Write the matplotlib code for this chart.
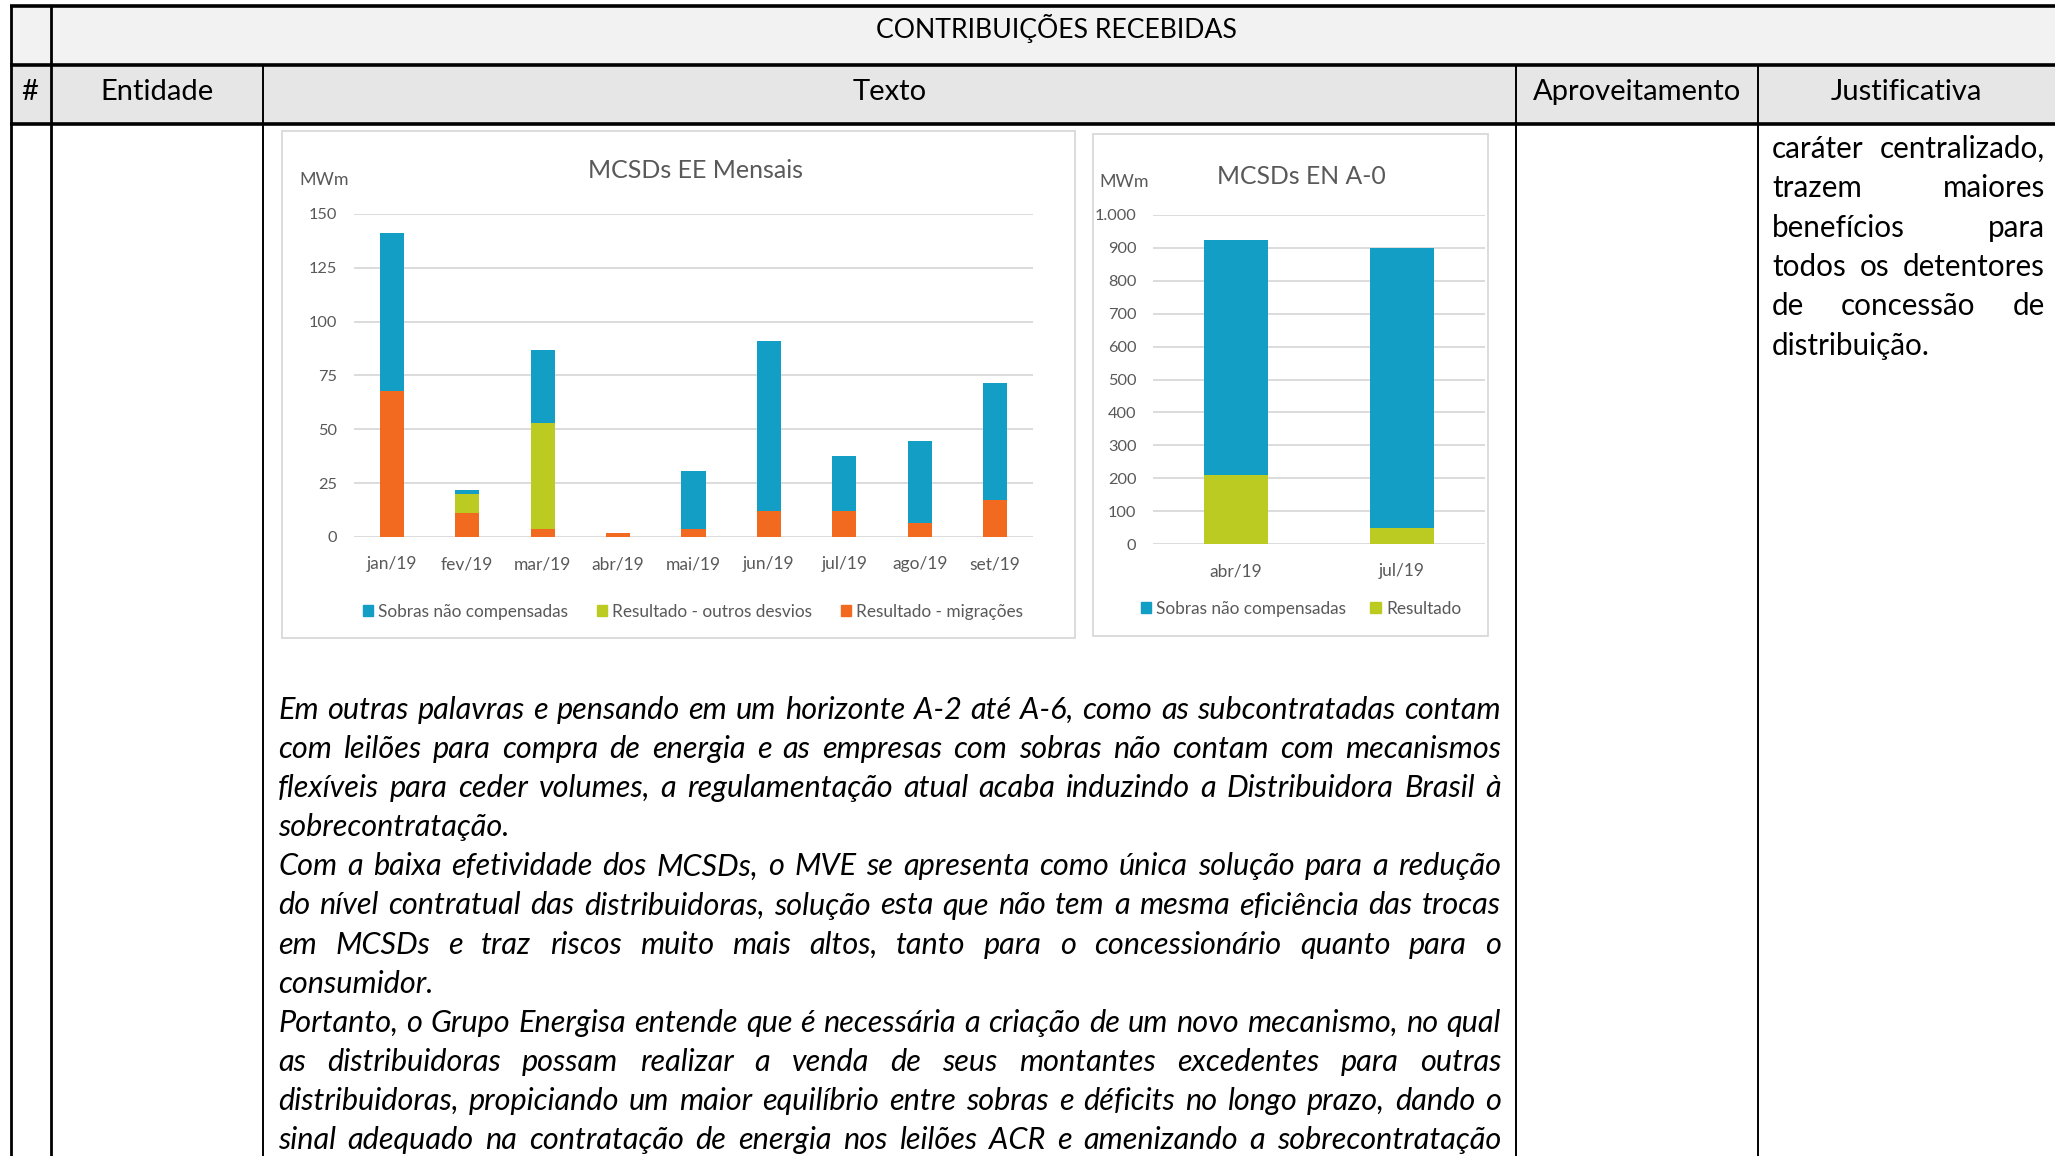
import matplotlib
matplotlib.use('Agg')
import matplotlib.pyplot as plt
from matplotlib.patches import Rectangle, Patch
from matplotlib.ticker import FuncFormatter

W, H, DPI = 2055, 1156, 100
FONT = 'Lato'

# ---------------- data ----------------
months = ['jan/19', 'fev/19', 'mar/19', 'abr/19', 'mai/19', 'jun/19', 'jul/19', 'ago/19', 'set/19']
res_migracoes = [68, 11, 3.5, 2, 3.5, 12, 12, 6.5, 17]
res_outros = [0, 9, 49.5, 0, 0, 0, 0, 0, 0]
sobras_mensais = [73, 1.8, 34, 0, 27, 79, 25.5, 38, 54.5]
mensal_yticks = [0, 25, 50, 75, 100, 125, 150]

a0_months = ['abr/19', 'jul/19']
a0_resultado = [210, 50]
a0_sobras = [713, 850]
a0_yticks = [0, 100, 200, 300, 400, 500, 600, 700, 800, 900, 1000]

title_row = 'CONTRIBUIÇÕES RECEBIDAS'
header_cols = ['#', 'Entidade', 'Texto', 'Aproveitamento', 'Justificativa']

body_lines = [
    'Em outras palavras e pensando em um horizonte A-2 até A-6, como as subcontratadas contam',
    'com leilões para compra de energia e as empresas com sobras não contam com mecanismos',
    'flexíveis para ceder volumes, a regulamentação atual acaba induzindo a Distribuidora Brasil à',
    'sobrecontratação.',
    'Com a baixa efetividade dos MCSDs, o MVE se apresenta como única solução para a redução',
    'do nível contratual das distribuidoras, solução esta que não tem a mesma eficiência das trocas',
    'em MCSDs e traz riscos muito mais altos, tanto para o concessionário quanto para o',
    'consumidor.',
    'Portanto, o Grupo Energisa entende que é necessária a criação de um novo mecanismo, no qual',
    'as distribuidoras possam realizar a venda de seus montantes excedentes para outras',
    'distribuidoras, propiciando um maior equilíbrio entre sobras e déficits no longo prazo, dando o',
    'sinal adequado na contratação de energia nos leilões ACR e amenizando a sobrecontratação',
]
body_par_end = [False, False, False, True, False, False, False, True, False, False, False, False]

just_lines = [
    'caráter centralizado,',
    'trazem maiores',
    'benefícios para',
    'todos os detentores',
    'de concessão de',
    'distribuição.',
]

C_BLUE = '#129EC5'
C_GREEN = '#BCCB22'
C_ORANGE = '#F26A1F'
C_TXT = '#595959'
C_GRID = '#D9D9D9'

# ---------------- figure & table ----------------
fig = plt.figure(figsize=(W / DPI, H / DPI), dpi=DPI)
fig.patch.set_facecolor('white')
bg = fig.add_axes([0, 0, 1, 1])
bg.set_xlim(0, W)
bg.set_ylim(H, 0)
bg.axis('off')

bg.add_patch(Rectangle((11, 6), W - 11, 59, facecolor='#f2f2f2', edgecolor='none'))
bg.add_patch(Rectangle((11, 65), W - 11, 59, facecolor='#e7e6e6', edgecolor='none'))
for y in (6, 65, 124):
    bg.plot([10, W], [y, y], color='black', lw=2.6, solid_capstyle='butt')
bg.plot([11, 11], [5, H], color='black', lw=2.0, solid_capstyle='butt')
bg.plot([51, 51], [5, H], color='black', lw=2.0, solid_capstyle='butt')
for x in (263, 1516, 1758):
    bg.plot([x, x], [65, H], color='black', lw=1.4, solid_capstyle='butt')

bg.text(1056, 38, title_row, ha='center', va='baseline', fontsize=19.2, family=FONT)
for name, xc in zip(header_cols, [30, 157, 890, 1637, 1906]):
    bg.text(xc, 100, name, ha='center', va='baseline', fontsize=21, family=FONT)

# chart boxes
bg.add_patch(Rectangle((282, 131), 1075 - 282, 638 - 131, facecolor='white', edgecolor=C_GRID, lw=1.3))
bg.add_patch(Rectangle((1093, 134), 1488 - 1093, 636 - 134, facecolor='white', edgecolor=C_GRID, lw=1.3))

renderer = fig.canvas.get_renderer()


def text_w(s, size, style):
    t = bg.text(0, 0, s, fontsize=size, family=FONT, style=style)
    w = t.get_window_extent(renderer).width
    t.remove()
    return w


def fit_size(lines, target, style):
    ref = 20.0
    mx = max(text_w(l, ref, style) for l in lines)
    return ref * target / mx


def place_lines(lines, ends, x0, x1, y0, dy, size, style):
    sp = text_w('x x', size, style) - text_w('xx', size, style)
    for i, (line, end) in enumerate(zip(lines, ends)):
        y = y0 + i * dy
        words = line.split()
        texts = [bg.text(0, y, w, ha='left', va='baseline', fontsize=size,
                         family=FONT, style=style) for w in words]
        widths = [t.get_window_extent(renderer).width for t in texts]
        if not end and len(words) > 1:
            gap = (x1 - x0 - sum(widths)) / (len(words) - 1)
        else:
            gap = sp
        x = x0
        for t, w in zip(texts, widths):
            t.set_x(x)
            x += w + gap


body_size = fit_size([l for l, e in zip(body_lines, body_par_end) if not e], (1501 - 278) * 0.985, 'italic')
place_lines(body_lines, body_par_end, 278, 1501, 719, 39.1, body_size, 'italic')

just_ends = [False] * (len(just_lines) - 1) + [True]
just_size = fit_size(just_lines[:-1], (2045 - 1772) * 0.97, 'normal')
place_lines(just_lines, just_ends, 1772, 2045, 158, 39.3, just_size, 'normal')


# ---------------- charts ----------------
def style_axis(ax, yticks, fmt=None):
    ax.set_facecolor('none')
    for s in ax.spines.values():
        s.set_visible(False)
    ax.set_yticks(yticks)
    ax.set_ylim(yticks[0], yticks[-1])
    ax.yaxis.grid(True, color=C_GRID, lw=1.3)
    ax.set_axisbelow(True)
    ax.tick_params(axis='both', length=0, colors=C_TXT)
    ax.tick_params(axis='y', pad=12, labelsize=11.8)
    ax.tick_params(axis='x', pad=14, labelsize=12.5)
    for lab in ax.get_xticklabels() + ax.get_yticklabels():
        lab.set_family(FONT)
    if fmt is not None:
        ax.yaxis.set_major_formatter(fmt)


ax1 = fig.add_axes([354 / W, 1 - 537 / H, (1033 - 354) / W, (537 - 214) / H])
x1 = list(range(len(months)))
bw = 0.32
ax1.bar(x1, res_migracoes, bw, color=C_ORANGE)
base = list(res_migracoes)
ax1.bar(x1, res_outros, bw, bottom=base, color=C_GREEN)
base = [a + b for a, b in zip(base, res_outros)]
ax1.bar(x1, sobras_mensais, bw, bottom=base, color=C_BLUE)
ax1.set_xlim(-0.5, len(months) - 0.5)
ax1.set_xticks(x1)
ax1.set_xticklabels(months)
style_axis(ax1, mensal_yticks)

leg1 = ax1.legend(handles=[Patch(color=C_BLUE, label='Sobras não compensadas'),
                           Patch(color=C_GREEN, label='Resultado - outros desvios'),
                           Patch(color=C_ORANGE, label='Resultado - migrações')],
                  loc='center', bbox_to_anchor=(693 / W, 1 - 612 / H), bbox_transform=fig.transFigure,
                  ncol=3, frameon=False, handlelength=0.6, handleheight=0.6,
                  handletextpad=0.3, columnspacing=1.65, prop={'family': FONT, 'size': 12.4})
for t in leg1.get_texts():
    t.set_color(C_TXT)

ax2 = fig.add_axes([1153 / W, 1 - 544 / H, (1485 - 1153) / W, (544 - 215) / H])
x2 = list(range(len(a0_months)))
bw2 = 0.39
ax2.bar(x2, a0_resultado, bw2, color=C_GREEN)
ax2.bar(x2, a0_sobras, bw2, bottom=a0_resultado, color=C_BLUE)
ax2.set_xlim(-0.5, len(a0_months) - 0.5)
ax2.set_xticks(x2)
ax2.set_xticklabels(a0_months)
style_axis(ax2, a0_yticks, FuncFormatter(lambda v, p: f'{int(v):,}'.replace(',', '.')))
ax2.tick_params(axis='y', pad=12)

leg2 = ax2.legend(handles=[Patch(color=C_BLUE, label='Sobras não compensadas'),
                           Patch(color=C_GREEN, label='Resultado')],
                  loc='center', bbox_to_anchor=(1301 / W, 1 - 609 / H), bbox_transform=fig.transFigure,
                  ncol=2, frameon=False, handlelength=0.6, handleheight=0.6,
                  handletextpad=0.3, columnspacing=1.4, prop={'family': FONT, 'size': 12.4})
for t in leg2.get_texts():
    t.set_color(C_TXT)

# chart titles and unit labels
bg.text(695, 171, 'MCSDs EE Mensais', ha='center', va='center', fontsize=18, family=FONT, color=C_TXT)
bg.text(324, 180, 'MWm', ha='center', va='center', fontsize=12.8, family=FONT, color=C_TXT)
bg.text(1301, 177, 'MCSDs EN A-0', ha='center', va='center', fontsize=17.8, family=FONT, color=C_TXT)
bg.text(1124, 182, 'MWm', ha='center', va='center', fontsize=12.8, family=FONT, color=C_TXT)

fig.savefig('out.png', dpi=DPI)
